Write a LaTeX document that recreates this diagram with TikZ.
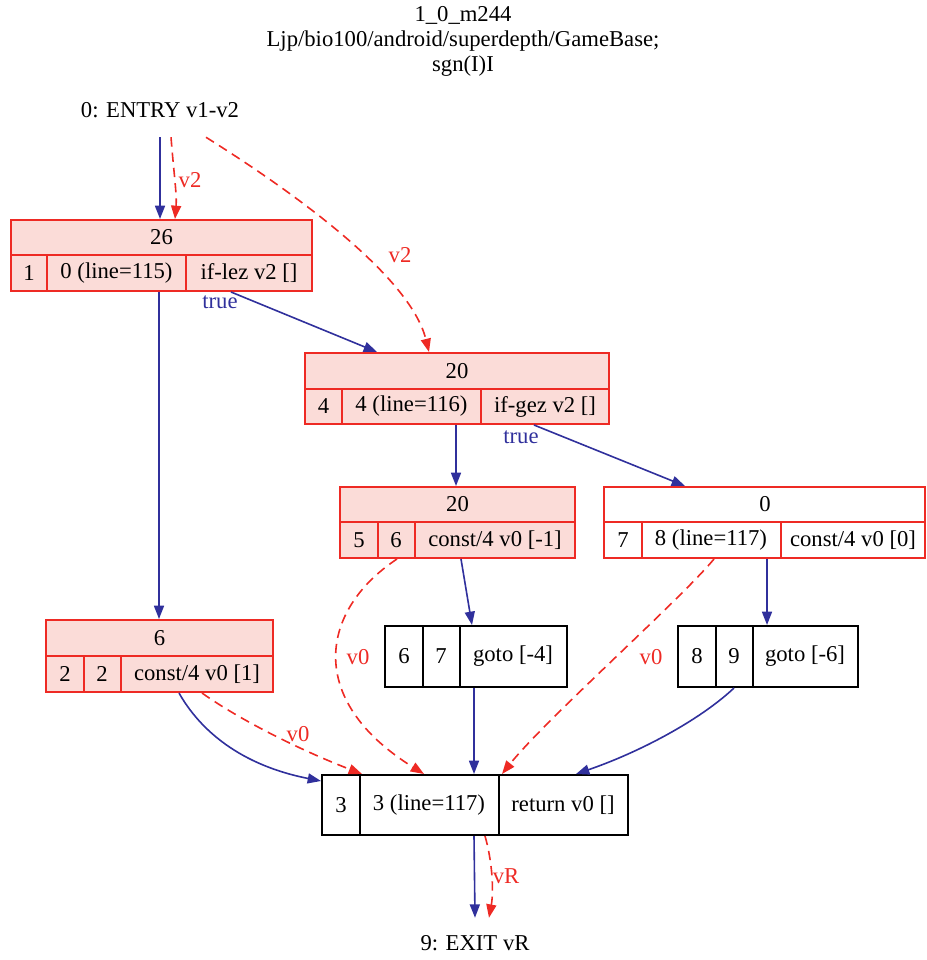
\documentclass[tikz,border=0pt]{standalone}
\usepackage{fontspec}
\setmainfont{Liberation Serif}
\usetikzlibrary{arrows.meta,calc,fit}
\definecolor{eblue}{HTML}{30309C}
\definecolor{ered}{HTML}{EE2A24}
\definecolor{rfill}{HTML}{FBDCD8}
\tikzset{
  txt/.style={font=\fontsize{17}{18.75}\selectfont, inner sep=0pt, anchor=center},
  rbox/.style={draw=ered, line width=1.5pt, inner sep=0pt},
  bbox/.style={draw=black, line width=1.5pt, inner sep=0pt},
  rline/.style={draw=ered, line width=1.5pt},
  bline/.style={draw=black, line width=1.5pt},
  flow/.style={eblue, line width=1.2pt, -{Triangle[length=10pt,width=7.5pt]}},
  data/.style={ered, line width=1.2pt, dash pattern=on 7pt off 4.5pt, -{Triangle[length=10pt,width=7.5pt]}},
}
\begin{document}
\begin{tikzpicture}[x=0.75pt,y=-0.75pt]
\useasboundingbox (0,0) rectangle (926,960);

% title
\node[txt, align=center] (title) at (463,41) {1\_0\_m244\\Ljp/bio100/android/superdepth/GameBase;\\sgn(I)I};

% entry / exit
\node[txt, minimum height=40.5pt] (en) at (160,110) {0: ENTRY v1-v2};
\node[txt, minimum height=37.5pt] (ex) at (475,943) {9: EXIT vR};

% Box A
\node[rbox, fill=rfill, fit={(11,220) (312,291)}] (A) {};
\draw[rline] (11,255) -- (312,255) (47,255) -- (47,291) (186,255) -- (186,291);
\node[txt] (A0) at (161.5,237.5) {26};
\node[txt] (A1) at (29,273) {1};
\node[txt] (A2) at (116.5,273) {0 (line=115)};
\node[txt] (A3) at (249,273) {if-lez v2 []};

% Box B
\node[rbox, fill=rfill, fit={(305,353) (609,424)}] (B) {};
\draw[rline] (305,389) -- (609,389) (342,389) -- (342,424) (481,389) -- (481,424);
\node[txt] (B0) at (457,371) {20};
\node[txt] (B1) at (323.5,406.5) {4};
\node[txt] (B2) at (411.5,406.5) {4 (line=116)};
\node[txt] (B3) at (545,406.5) {if-gez v2 []};

% Box C
\node[rbox, fill=rfill, fit={(340,487) (575,558)}] (C) {};
\draw[rline] (340,522) -- (575,522) (377.5,522) -- (377.5,558) (414.5,522) -- (414.5,558);
\node[txt] (C0) at (457.5,504.5) {20};
\node[txt] (C1) at (359,540) {5};
\node[txt] (C2) at (396,540) {6};
\node[txt] (C3) at (495,540) {const/4 v0 [-1]};

% Box D
\node[rbox, fill=white, fit={(604,487) (925,558)}] (D) {};
\draw[rline] (604,522) -- (925,522) (641.5,522) -- (641.5,558) (780.5,522) -- (780.5,558);
\node[txt] (D0) at (765,504.5) {0};
\node[txt] (D1) at (623,540) {7};
\node[txt] (D2) at (711,540) {8 (line=117)};
\node[txt] (D3) at (853,540) {const/4 v0 [0]};

% Box E
\node[rbox, fill=rfill, fit={(46,620) (273,692)}] (E) {};
\draw[rline] (46,656) -- (273,656) (83.5,656) -- (83.5,692) (121,656) -- (121,692);
\node[txt] (E0) at (159.5,638) {6};
\node[txt] (E1) at (65,674) {2};
\node[txt] (E2) at (102,674) {2};
\node[txt] (E3) at (197,674) {const/4 v0 [1]};

% Box F
\node[bbox, fit={(385,626) (567,687)}] (F) {};
\draw[bline] (422.5,626) -- (422.5,687) (459.5,626) -- (459.5,687);
\node[txt] (F1) at (404,656.5) {6};
\node[txt] (F2) at (441,656.5) {7};
\node[txt] (F3) at (513,656.5) {goto [-4]};

% Box G
\node[bbox, fit={(678,626) (858,687)}] (G) {};
\draw[bline] (715.5,626) -- (715.5,687) (752.5,626) -- (752.5,687);
\node[txt] (G1) at (697,656.5) {8};
\node[txt] (G2) at (734,656.5) {9};
\node[txt] (G3) at (805,656.5) {goto [-6]};

% Box H
\node[bbox, fit={(322,775) (628,835)}] (H) {};
\draw[bline] (359.5,775) -- (359.5,835) (498.5,775) -- (498.5,835);
\node[txt] (H1) at (341,805) {3};
\node[txt] (H2) at (429,805) {3 (line=117)};
\node[txt] (H3) at (563,805) {return v0 []};

% edges
\draw[flow] (en.south) -- (en.south |- A.north);
\draw[data] ($(en.south)+(11,0)$) .. controls (174,175) and (177,195) .. ($(A.north west)+(165,0)$);
\node[txt, text=ered] (l1) at (190,180) {v2};
\draw[data] ($(en.south)+(46,0)$) .. controls (290,190) and (410,275) .. ($(B.north west)+(125,0)$);
\node[txt, text=ered] (l2) at (400,255) {v2};

\draw[flow] ($(A.south west)+(221,0)$) -- ($(B.north west)+(73,0)$);
\node[txt, text=eblue] (t1) at (220,302) {true};
\draw[flow] ($(A.south west)+(149,0)$) -- ($(E.north west)+(114,0)$);

\draw[flow] ($(B.south west)+(152,0)$) -- ($(C.north west)+(117,0)$);
\draw[flow] ($(B.south west)+(230,0)$) -- ($(D.north west)+(82,0)$);
\node[txt, text=eblue] (t2) at (521,437) {true};

\draw[flow] ($(C.south west)+(122,0)$) -- ($(F.north west)+(88,0)$);
\draw[flow] ($(D.south west)+(164,0)$) -- ($(G.north west)+(90,0)$);

\draw[flow] ($(E.south west)+(134,0)$) .. controls (200,730) and (240,765) .. ($(H.north west)+(0,7)$);
\draw[data] ($(E.south west)+(157,0)$) .. controls (240,720) and (300,750) .. ($(H.north west)+(41,0)$);
\node[txt, text=ered] (l3) at (298,734) {v0};

\draw[data] ($(C.south west)+(58,0)$) .. controls (320,610) and (305,700) .. ($(H.north west)+(103,0)$);
\node[txt, text=ered] (l4) at (358,657) {v0};

\draw[data] ($(D.south west)+(111,0)$) .. controls (680,600) and (545,720) .. ($(H.north west)+(181,0)$);
\node[txt, text=ered] (l5) at (651,657) {v0};

\draw[flow] ($(F.south west)+(90,0)$) -- ($(H.north west)+(153,0)$);
\draw[flow] ($(G.south west)+(57,0)$) .. controls (700,720) and (640,752) .. ($(H.north west)+(255,0)$);

\draw[flow] ($(H.south west)+(153,0)$) -- (ex.north);
\draw[data] ($(H.south west)+(164,0)$) .. controls (492,860) and (494,890) .. ($(ex.north)+(14,0)$);
\node[txt, text=ered] (l6) at (506,876) {vR};
\end{tikzpicture}
\end{document}
